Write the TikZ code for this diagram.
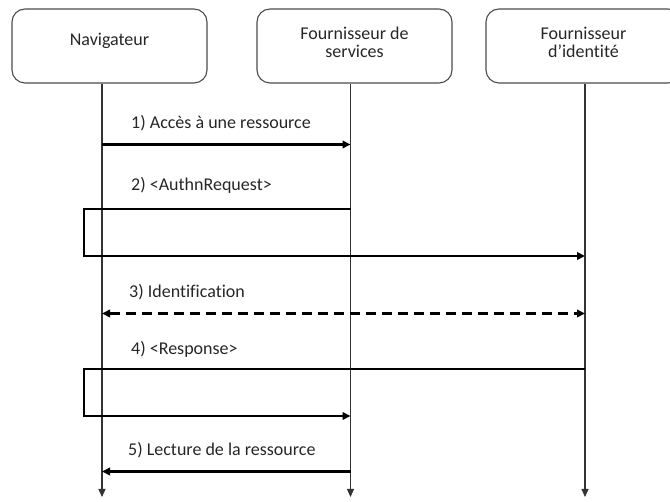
\documentclass[tikz,border=0pt]{standalone}
\usepackage{fontspec}
\setmainfont{Carlito}[Ligatures=NoCommon]
\usetikzlibrary{arrows.meta}
\begin{document}
\begin{tikzpicture}[x=1pt,y=-1pt,
  actor/.style={draw=black!70, line width=1.1pt, rounded corners=13pt,
    minimum width=195pt, minimum height=74pt, inner sep=0pt},
  title/.style={align=center, font=\fontsize{18}{18}\selectfont, text=black!85, inner sep=0pt},
  lifeline/.style={draw=black!80, line width=1.1pt, -{Triangle[length=8pt,width=7pt]}},
  msg/.style={line width=2.3pt, line join=miter, -{Triangle[length=8pt,width=7.5pt]}},
  lbl/.style={anchor=west, font=\fontsize{18}{20}\selectfont, text=black!85, inner sep=0pt}]
\useasboundingbox (0,0) rectangle (670,502);

% participants
\node[actor] (nav) at (109.5,46) {};
\node[actor] (sp) at (354.5,46) {};
\node[actor] (idp) at (583.5,46) {};
\node[title] (navT) at (nav.center) [yshift=5pt] {Navigateur};
\node[title] (spT) at (sp.center) [yshift=4pt] {Fournisseur de\\services};
\node[title] (idpT) at (idp.center) [yshift=4pt] {Fournisseur\\d’identité};

% lifelines
\coordinate (navEnd) at (102,497);
\coordinate (spEnd) at (350.5,497);
\coordinate (idpEnd) at (585,497);
\draw[lifeline] (nav.south -| navEnd) -- (navEnd);
\draw[lifeline] (sp.south -| spEnd) -- (spEnd);
\draw[lifeline] (idp.south -| idpEnd) -- (idpEnd);

% 1) access
\node[lbl] (l1) at (131,123) {1) Accès à une ressource};
\draw[msg] (navEnd |- 0,144.5) -- (spEnd |- 0,144.5);

% 2) AuthnRequest, redirected through the browser
\node[lbl] (l2) at (131,185) {2) <AuthnRequest>};
\draw[msg] (spEnd |- 0,209) -- (84,209) -- (84,256) -- (idpEnd |- 0,256);

% 3) identification
\node[lbl] (l3) at (129,292) {3) Identification};
\draw[msg, {Triangle[length=8pt,width=7.5pt]}-{Triangle[length=8pt,width=7.5pt]},
      dash pattern=on 10pt off 6pt] (navEnd |- 0,313.5) -- (idpEnd |- 0,313.5);

% 4) Response, redirected through the browser
\node[lbl] (l4) at (131,349) {4) <Response>};
\draw[msg] (idpEnd |- 0,369) -- (84,369) -- (84,416) -- (spEnd |- 0,416);

% 5) resource read
\node[lbl] (l5) at (128,450) {5) Lecture de la ressource};
\draw[msg] (spEnd |- 0,471.5) -- (navEnd |- 0,471.5);
\end{tikzpicture}
\end{document}
